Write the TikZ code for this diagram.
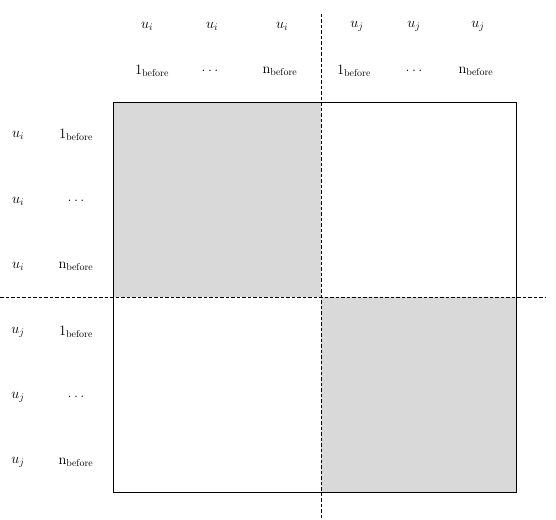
\documentclass[tikz,border=0pt]{standalone}
\usepackage{fontspec}
\begin{document}
\begin{tikzpicture}[x=1pt,y=-1pt,
  lbl/.style={inner sep=0pt, font=\fontsize{14.4}{17}\selectfont},
  frame/.style={draw=black, line width=0.9pt},
  divider/.style={draw=black, line width=0.8pt, dash pattern=on 3.5pt off 2pt},
  block/.style={fill=black!15}]
\useasboundingbox (0,0) rectangle (556,519);
% corners of the matrix
\coordinate (tl) at (113,102);
\coordinate (br) at (516,492);
\coordinate (mid) at (321,297);
% shaded diagonal blocks
\fill[block] (tl) rectangle (mid);
\fill[block] (mid) rectangle (br);
\draw[frame] (tl) rectangle (br);
% separators between the two users
\coordinate (vtop) at (321,14);
\coordinate (vbot) at (321,519);
\coordinate (hleft) at (0,297);
\coordinate (hright) at (545,297);
\draw[divider] (vtop) -- (vbot);
\draw[divider] (hleft) -- (hright);
% column headers
\node[lbl] (cu1) at (147,26) {$u_i$};
\node[lbl] (cu2) at (212,26) {$u_i$};
\node[lbl] (cu3) at (282,26) {$u_i$};
\node[lbl] (cu4) at (357,26) {$u_j$};
\node[lbl] (cu5) at (414,26) {$u_j$};
\node[lbl] (cu6) at (478,26) {$u_j$};
\node[lbl] (cn1) at (152,71) {$1_{\mathrm{before}}$};
\node[lbl] (cn2) at (210,71) {$\dots$};
\node[lbl] (cn3) at (280,71) {$\mathrm{n}_{\mathrm{before}}$};
\node[lbl] (cn4) at (354,71) {$1_{\mathrm{before}}$};
\node[lbl] (cn5) at (414,71) {$\dots$};
\node[lbl] (cn6) at (476,71) {$\mathrm{n}_{\mathrm{before}}$};
% row headers
\node[lbl] (ru1) at (18,135) {$u_i$};
\node[lbl] (ru2) at (18,201) {$u_i$};
\node[lbl] (ru3) at (18,266) {$u_i$};
\node[lbl] (ru4) at (18,332) {$u_j$};
\node[lbl] (ru5) at (18,397) {$u_j$};
\node[lbl] (ru6) at (18,462) {$u_j$};
\node[lbl] (rn1) at (76,135) {$1_{\mathrm{before}}$};
\node[lbl] (rn2) at (76,201) {$\dots$};
\node[lbl] (rn3) at (76,266) {$\mathrm{n}_{\mathrm{before}}$};
\node[lbl] (rn4) at (76,332) {$1_{\mathrm{before}}$};
\node[lbl] (rn5) at (76,397) {$\dots$};
\node[lbl] (rn6) at (76,462) {$\mathrm{n}_{\mathrm{before}}$};
\end{tikzpicture}
\end{document}
